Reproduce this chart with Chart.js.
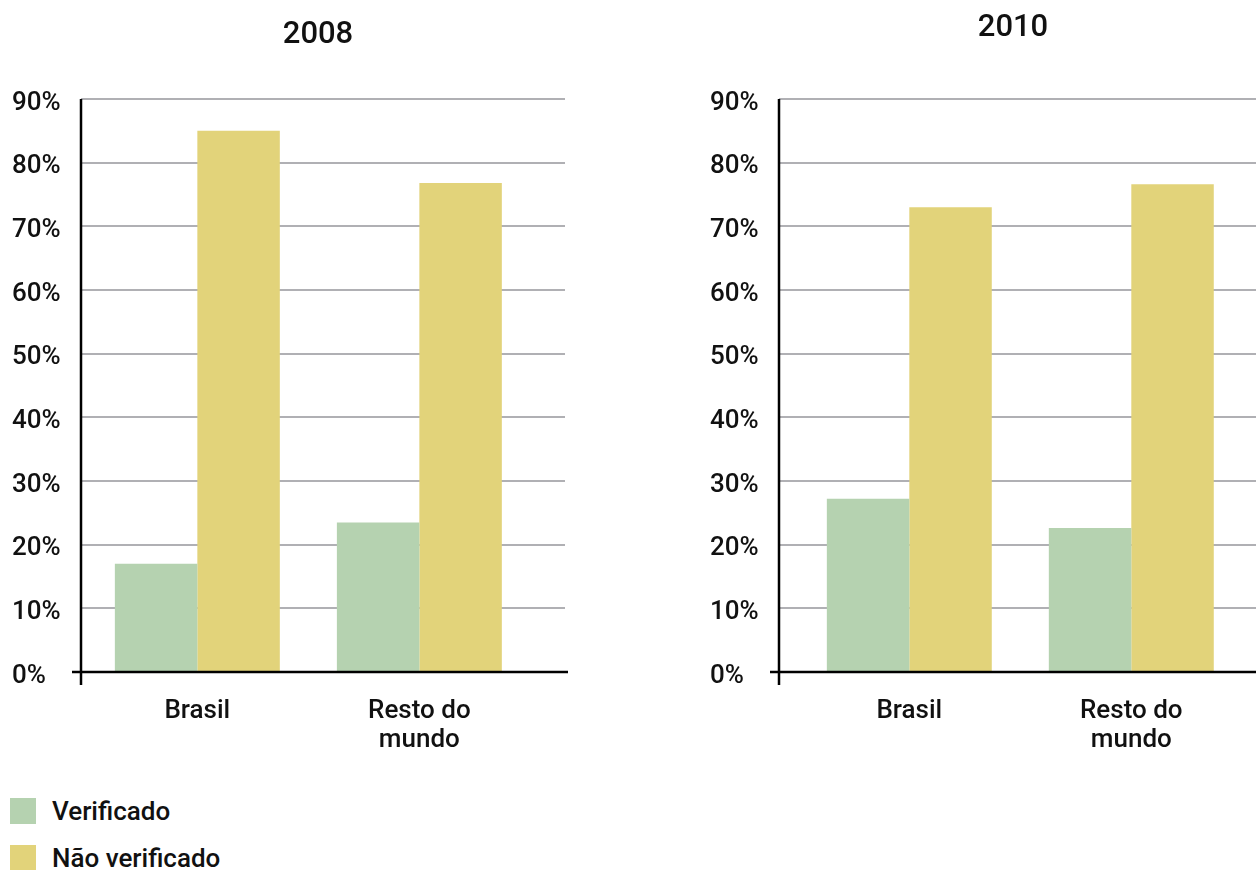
<!DOCTYPE html>
<html>
<head>
<meta charset="utf-8">
<script src="https://cdn.jsdelivr.net/npm/chart.js@4.4.1/dist/chart.umd.min.js"></script>
<style>
  html, body { margin: 0; padding: 0; background: #fff; overflow: hidden; }
  body { width: 1256px; height: 870px; position: relative; font-family: Roboto, sans-serif; }
  #c2008 { position: absolute; left: 0; top: 0; }
  #c2010 { position: absolute; left: 698px; top: 0; }
  #legend { position: absolute; left: 10px; top: 798px; }
  .item { display: flex; align-items: center; height: 26px; margin-bottom: 21px; font-size: 26px; font-weight: 500; color: #111; }
  .box { width: 26px; height: 26px; margin-right: 16px; }
</style>
</head>
<body>
<canvas id="c2008" width="624" height="780"></canvas>
<canvas id="c2010" width="618" height="780"></canvas>
<div id="legend"></div>
<script>
// categories sit on a linear x axis at these positions
var categories = ['Brasil', ['Resto do', 'mundo']];
var catPositions = [1, 2];
var seriesNames = ['Verificado', 'Não verificado'];
var seriesColors = ['#b5d2b0', '#e2d37a'];

var verif2008 = [17, 23.5];
var naoVerif2008 = [85, 76.8];
var verif2010 = [27.2, 22.6];
var naoVerif2010 = [73, 76.6];

var yMax = 90;
var yStep = 10;

var FONT = 'Roboto';

function points(values) {
  return values.map(function(v, i){ return {x: catPositions[i], y: v}; });
}

var axisLines = {
  id: 'axisLines',
  afterDatasetsDraw: function(chart) {
    var ctx = chart.ctx, a = chart.chartArea;
    ctx.save();
    ctx.strokeStyle = '#000';
    ctx.lineWidth = 2.5;
    ctx.beginPath();
    ctx.moveTo(a.left, a.top);
    ctx.lineTo(a.left, a.bottom + 13);
    ctx.moveTo(a.left - 9, a.bottom);
    ctx.lineTo(a.right + 3, a.bottom);
    ctx.stroke();
    ctx.restore();
  }
};

function makeChart(id, title, titleTop, verif, naoVerif, xMin, xMax, padRight) {
  var ctx = document.getElementById(id).getContext('2d');
  var scales = {
    x: {
      type: 'linear',
      min: xMin,
      max: xMax,
      offset: false,
      grid: { display: false, drawTicks: false },
      border: { display: false },
      afterBuildTicks: function(s){ s.ticks = catPositions.map(function(p){ return {value: p}; }); },
      afterFit: function(s){ s.height = 108; },
      ticks: {
        padding: 25,
        color: '#111',
        font: { family: FONT, size: 26, weight: '500', lineHeight: 1.12 },
        callback: function(v){ var i = catPositions.indexOf(v); return i < 0 ? '' : categories[i]; }
      }
    },
    y: {
      min: 0,
      max: yMax,
      grid: { color: '#b0b0b4', lineWidth: 2, drawTicks: false },
      border: { display: false },
      afterFit: function(s){ s.width = 69; },
      ticks: {
        stepSize: yStep,
        crossAlign: 'far',
        labelOffset: 4,
        color: '#111',
        font: { family: FONT, size: 26, weight: '500' },
        callback: function(v){ return v + '%'; }
      }
    }
  };
  if (padRight) {
    scales.yPad = {
      type: 'linear',
      position: 'right',
      grid: { display: false },
      border: { display: false },
      ticks: { display: false },
      afterFit: function(s){ s.width = padRight; }
    };
  }
  return new Chart(ctx, {
    type: 'bar',
    data: {
      datasets: [
        { label: seriesNames[0], data: points(verif), backgroundColor: seriesColors[0] },
        { label: seriesNames[1], data: points(naoVerif), backgroundColor: seriesColors[1] }
      ]
    },
    options: {
      responsive: false,
      animation: false,
      layout: { padding: { left: 12, right: 0, top: 0, bottom: 0 } },
      datasets: { bar: { categoryPercentage: 0.743, barPercentage: 1 } },
      plugins: {
        legend: { display: false },
        tooltip: { enabled: false },
        title: {
          display: true,
          text: title,
          color: '#111',
          font: { family: FONT, size: 31, weight: '500', lineHeight: 1.2 },
          padding: { top: titleTop, bottom: 99 - titleTop - 37.2 }
        }
      },
      scales: scales
    },
    plugins: [axisLines]
  });
}

makeChart('c2008', '2008', 17, verif2008, naoVerif2008, 0.476, 2.656, 59);
makeChart('c2010', '2010', 10, verif2010, naoVerif2010, 0.413, 2.832, 0);

// shared legend
var legend = document.getElementById('legend');
seriesNames.forEach(function(name, i){
  var row = document.createElement('div');
  row.className = 'item';
  var box = document.createElement('span');
  box.className = 'box';
  box.style.background = seriesColors[i];
  row.appendChild(box);
  row.appendChild(document.createTextNode(name));
  legend.appendChild(row);
});
</script>
</body>
</html>
